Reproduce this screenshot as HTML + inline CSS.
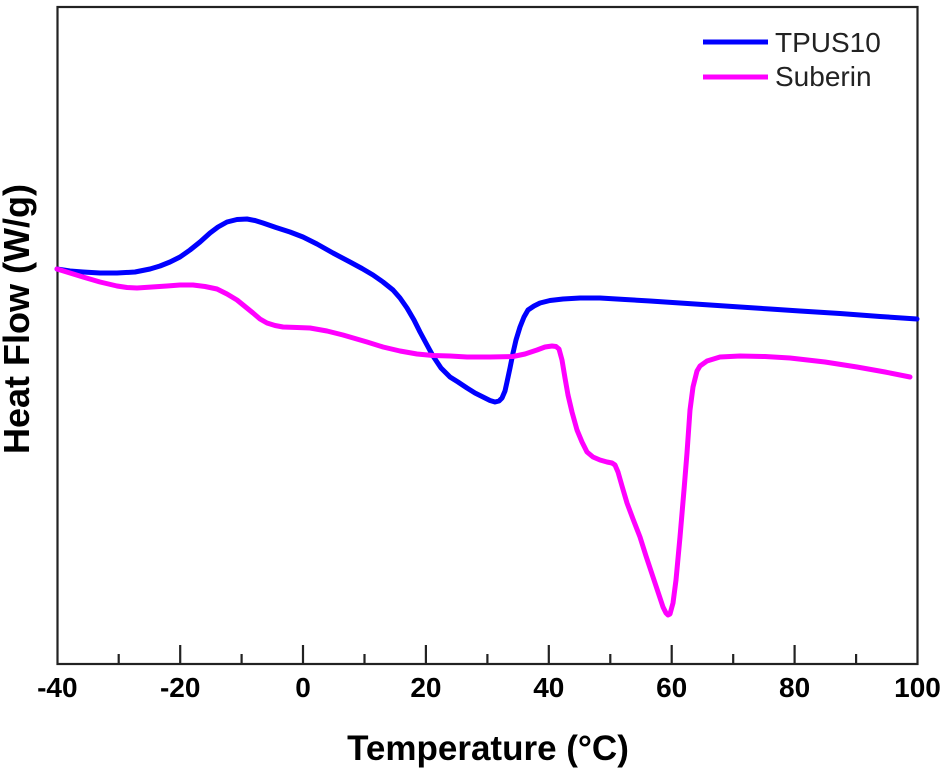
<!DOCTYPE html>
<html>
<head>
<meta charset="utf-8">
<style>
html,body{margin:0;padding:0;background:#fff;}
svg{display:block;}
</style>
</head>
<body>
<svg width="945" height="775" viewBox="0 0 945 775" xmlns="http://www.w3.org/2000/svg">
<rect x="0" y="0" width="945" height="775" fill="#fff"/>
<!-- frame -->
<rect x="57.5" y="7" width="860" height="657" fill="none" stroke="#222" stroke-width="2.2"/>
<!-- ticks -->
<g stroke="#222" stroke-width="2.2">
<line x1="180.2" y1="664" x2="180.2" y2="645"/>
<line x1="303" y1="664" x2="303" y2="645"/>
<line x1="425.9" y1="664" x2="425.9" y2="645"/>
<line x1="548.8" y1="664" x2="548.8" y2="645"/>
<line x1="671.7" y1="664" x2="671.7" y2="645"/>
<line x1="794.6" y1="664" x2="794.6" y2="645"/>
<line x1="118.7" y1="664" x2="118.7" y2="654"/>
<line x1="241.6" y1="664" x2="241.6" y2="654"/>
<line x1="364.5" y1="664" x2="364.5" y2="654"/>
<line x1="487.4" y1="664" x2="487.4" y2="654"/>
<line x1="610.3" y1="664" x2="610.3" y2="654"/>
<line x1="733.2" y1="664" x2="733.2" y2="654"/>
<line x1="856.1" y1="664" x2="856.1" y2="654"/>
</g>
<g font-family="Liberation Sans, Arial, sans-serif" font-weight="bold" font-size="28" fill="#000" text-anchor="middle">
<text x="57.3" y="697">-40</text>
<text x="180.2" y="697">-20</text>
<text x="303" y="697">0</text>
<text x="425.9" y="697">20</text>
<text x="548.8" y="697">40</text>
<text x="671.7" y="697">60</text>
<text x="794.6" y="697">80</text>
<text x="917.5" y="697">100</text>
</g>
<text x="488" y="760" font-family="Liberation Sans, Arial, sans-serif" font-weight="bold" font-size="35" text-anchor="middle" fill="#000">Temperature (°C)</text>
<text transform="translate(29,319) rotate(-90)" x="0" y="0" font-family="Liberation Sans, Arial, sans-serif" font-weight="bold" font-size="36" text-anchor="middle" fill="#000">Heat Flow (W/g)</text>

<!-- TPUS10 blue -->
<polyline fill="none" stroke="#0000ff" stroke-width="5" stroke-linejoin="round" stroke-linecap="round" points="
57,269 70,271 83,272 100,273 117,273 135,272 150,269 160,266 170,262 180,257 190,250 200,242 210,233 218,227 227,222 237,219.5 247,219 255,220.5 263,223 276,227.5 290,232 303,237 317,244 333,253 350,262 362,268.5 373,275 383,282 393,290 400,298 407,308 414,320 420,332 427,345 433,356 441,368 450,377 458,382 467,388 475,393 483,397 490,400.5 495,402 499,401 502,398 505,391 507,382 510,368 513,353 516,340 520,327 524,317 528,310 534,306 540,303 550,300.5 563,299 580,298 600,298 625,299.5 650,301 680,303 710,305 740,307 770,309 800,311 840,313.5 880,316.5 917,319"/>

<!-- Suberin magenta -->
<polyline fill="none" stroke="#ff00ff" stroke-width="5" stroke-linejoin="round" stroke-linecap="round" points="
57,269 70,273 83,277 100,282 117,286 127,287.5 137,288 152,287 167,286 180,285 193,285 205,286.5 217,289 227,294 237,300 245,306.5 253,313 260,319 267,323 275,325.5 283,327 297,327.5 310,328 327,331 343,335 355,338.5 367,342 383,347 400,351 417,354 433,355.5 450,356 467,357 490,357 513,356.5 525,354 537,350 545,347 552,346 556,346.5 559,349 562,360 565,378 568,395 572,412 577,430 582,442 587,452 593,457 600,460 607,462 612,463 615,465 618,472 622,486 627,503 633,519 640,537 646,556 653,577 658,592 663,607 666,613 668,615 670,614 673,603 676,580 680,537 684,490 687,453 690,410 693,387 697,371 700,366 707,361 720,357 740,356 765,356.5 790,358 825,362 857,367 885,372 910,377"/>

<!-- legend -->
<line x1="703" y1="42" x2="768" y2="42" stroke="#0000ff" stroke-width="5"/>
<line x1="703" y1="77" x2="768" y2="77" stroke="#ff00ff" stroke-width="5"/>
<g font-family="Liberation Sans, Arial, sans-serif" font-size="28" fill="#222">
<text x="775" y="52">TPUS10</text>
<text x="775" y="86">Suberin</text>
</g>
</svg>
</body>
</html>
